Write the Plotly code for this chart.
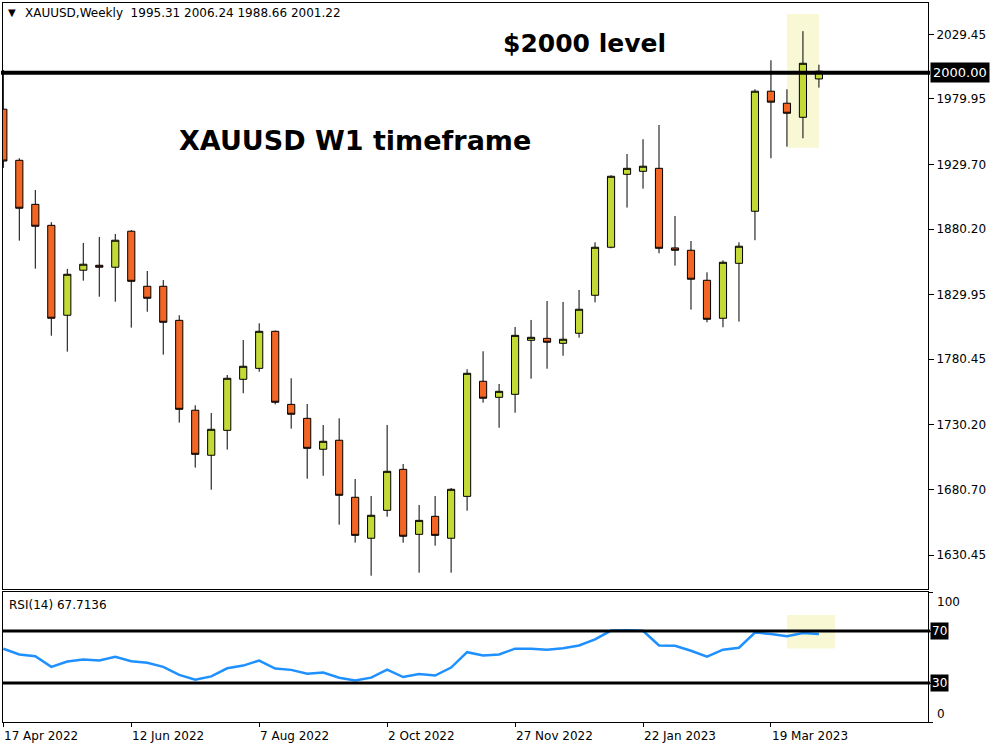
import plotly.graph_objects as go
import pandas as pd

# ---------------- data ----------------
dates = [
    "2022-04-17", "2022-04-24", "2022-05-01", "2022-05-08", "2022-05-15", "2022-05-22",
    "2022-05-29", "2022-06-05", "2022-06-12", "2022-06-19", "2022-06-26", "2022-07-03",
    "2022-07-10", "2022-07-17", "2022-07-24", "2022-07-31", "2022-08-07", "2022-08-14",
    "2022-08-21", "2022-08-28", "2022-09-04", "2022-09-11", "2022-09-18", "2022-09-25",
    "2022-10-02", "2022-10-09", "2022-10-16", "2022-10-23", "2022-10-30", "2022-11-06",
    "2022-11-13", "2022-11-20", "2022-11-27", "2022-12-04", "2022-12-11", "2022-12-18",
    "2022-12-25", "2023-01-01", "2023-01-08", "2023-01-15", "2023-01-22", "2023-01-29",
    "2023-02-05", "2023-02-12", "2023-02-19", "2023-02-26", "2023-03-05", "2023-03-12",
    "2023-03-19", "2023-03-26", "2023-04-02", "2023-04-09",
]
opens = [1972.1, 1932.95, 1899.2, 1883.1, 1814.2, 1848.7, 1852.5, 1851.0, 1878.6, 1836.4,
         1836.4, 1810.3, 1741.4, 1706.9, 1726.0, 1765.1, 1773.5, 1801.9, 1745.9, 1735.2,
         1711.5, 1718.4, 1674.7, 1643.3, 1664.7, 1696.1, 1646.3, 1660.1, 1643.3, 1675.4,
         1763.6, 1751.3, 1753.6, 1795.0, 1796.5, 1792.7, 1800.4, 1829.5, 1866.3, 1922.2,
         1924.5, 1926.8, 1865.8, 1864.0, 1841.0, 1811.9, 1854.0, 1893.9, 1985.9, 1976.7,
         1965.9, 1995.31]
highs = [2002.2, 1934.5, 1910.2, 1885.5, 1849.7, 1869.6, 1874.2, 1876.5, 1879.5, 1848.1,
         1841.2, 1814.2, 1745.2, 1739.3, 1768.4, 1795.2, 1808.0, 1802.5, 1765.9, 1746.2,
         1730.1, 1735.2, 1688.7, 1675.7, 1730.1, 1700.2, 1668.8, 1675.7, 1681.8, 1772.8,
         1786.6, 1761.5, 1805.2, 1810.6, 1825.1, 1824.4, 1833.6, 1870.1, 1921.5, 1937.8,
         1949.1, 1960.0, 1890.3, 1871.1, 1847.1, 1856.3, 1870.1, 1987.4, 2009.6, 1987.4,
         2031.9, 2006.24]
lows = [1927.1, 1871.4, 1849.9, 1798.5, 1786.3, 1840.7, 1828.4, 1824.6, 1804.7, 1816.9,
        1784.0, 1731.9, 1697.4, 1680.5, 1711.2, 1754.4, 1770.9, 1745.9, 1727.3, 1688.9,
        1691.2, 1653.7, 1639.9, 1614.6, 1659.8, 1639.9, 1616.9, 1637.6, 1616.9, 1664.4,
        1747.2, 1728.0, 1739.5, 1765.6, 1773.2, 1783.2, 1797.0, 1824.1, 1865.5, 1896.7,
        1911.2, 1861.7, 1852.2, 1818.5, 1808.8, 1805.0, 1809.3, 1871.7, 1934.5, 1943.4,
        1949.8, 1988.66]
closes = [1932.4, 1896.2, 1882.4, 1811.9, 1845.6, 1853.3, 1851.0, 1871.7, 1840.2, 1827.2,
          1808.8, 1742.1, 1707.6, 1726.8, 1765.9, 1775.1, 1801.9, 1747.5, 1738.3, 1712.2,
          1717.6, 1676.2, 1645.5, 1660.9, 1694.6, 1644.8, 1657.0, 1645.5, 1680.8, 1769.7,
          1750.6, 1755.9, 1798.8, 1797.3, 1793.5, 1795.8, 1818.8, 1866.3, 1920.7, 1926.8,
          1928.4, 1865.5, 1864.0, 1841.8, 1811.1, 1854.8, 1867.1, 1985.9, 1977.5, 1969.0,
          2007.3, 2001.22]
rsi = [56.4, 51.9, 50.6, 42.4, 46.5, 48.1, 47.3, 50.1, 46.8, 45.5, 42.4, 36.2, 32.6, 35.1,
       41.3, 43.4, 47.3, 41.1, 40.1, 37.2, 38.0, 34.1, 32.0, 34.1, 40.3, 34.6, 37.0, 35.7,
       41.9, 53.7, 51.2, 51.9, 56.4, 56.4, 55.6, 56.8, 58.9, 63.6, 70.3, 70.6, 70.2, 58.9,
       58.6, 54.8, 50.2, 55.6, 57.1, 68.8, 67.7, 65.9, 68.5, 67.71]

price_tick_vals = [2029.45, 1979.95, 1929.70, 1880.20, 1829.95, 1780.45, 1730.20, 1680.70, 1630.45]
price_tick_text = ["2029.45", "1979.95", "1929.70", "1880.20", "1829.95", "1780.45",
                   "1730.20", "1680.70", "1630.45"]
date_tick_idx = [0, 8, 16, 24, 32, 40, 48]
date_tick_text = ["17 Apr 2022", "12 Jun 2022", "7 Aug 2022", "2 Oct 2022",
                  "27 Nov 2022", "22 Jan 2023", "19 Mar 2023"]
level_price = 2000.0
rsi_levels = [70, 30]
header_text = "XAUUSD,Weekly  1995.31 2006.24 1988.66 2001.22"
rsi_text = "RSI(14) 67.7136"

# ---------------- styling ----------------
GREEN = "#C3D935"
ORANGE = "#F26522"
BLUE = "#1E90FF"
HILITE = "#F8F8D5"
FONT = "DejaVu Sans"

t0 = pd.Timestamp(dates[0])
week = pd.Timedelta(days=7)
x_range = [t0 - 0.02 * week, t0 + 57.82 * week]

X_DOM = [0.003, 0.928]
Y_MAIN = [1 - 589 / 750, 1 - 3 / 750]
Y_RSI = [1 - 722 / 750, 1 - 592 / 750]


def px_x(p):
    return p / 1000


def px_y(p):
    return 1 - p / 750


fig = go.Figure()

fig.add_trace(go.Candlestick(
    x=dates, open=opens, high=highs, low=lows, close=closes,
    increasing=dict(fillcolor=GREEN, line=dict(color="black", width=1)),
    decreasing=dict(fillcolor=ORANGE, line=dict(color="black", width=1)),
    whiskerwidth=0, xaxis="x", yaxis="y", showlegend=False, hoverinfo="skip",
))

fig.add_trace(go.Scatter(
    x=dates, y=rsi, mode="lines", line=dict(color=BLUE, width=2.5),
    xaxis="x2", yaxis="y2", showlegend=False, hoverinfo="skip",
))

shapes = []
# highlight boxes
shapes.append(dict(type="rect", xref="x", yref="y", x0=dates[49], x1=dates[51],
                   y0=1942.6, y1=2045.1, fillcolor=HILITE, line=dict(width=0), layer="below"))
shapes.append(dict(type="rect", xref="x2", yref="y2", x0=dates[49],
                   x1=pd.Timestamp(dates[51]) + week,
                   y0=56.6, y1=82.4, fillcolor=HILITE, line=dict(width=0), layer="below"))
# $2000 level line
shapes.append(dict(type="line", xref="paper", yref="y", x0=0.001, x1=0.93,
                   y0=level_price, y1=level_price, line=dict(color="black", width=4)))
# RSI levels
for lv in rsi_levels:
    shapes.append(dict(type="line", xref="paper", yref="y2", x0=0.003, x1=0.93,
                       y0=lv, y1=lv, line=dict(color="black", width=3)))

annotations = []
# header
annotations.append(dict(xref="paper", yref="paper", x=px_x(12), y=px_y(13), text="▼",
                        showarrow=False, xanchor="center", yanchor="middle",
                        font=dict(family=FONT, size=10, color="black")))
annotations.append(dict(xref="paper", yref="paper", x=px_x(23), y=px_y(13), text=header_text,
                        showarrow=False, xanchor="left", yanchor="middle",
                        font=dict(family=FONT, size=12, color="black")))
# big texts
annotations.append(dict(xref="paper", yref="paper", x=px_x(355), y=px_y(141),
                        text="XAUUSD W1 timeframe", showarrow=False,
                        xanchor="center", yanchor="middle",
                        font=dict(family=FONT, size=27, color="black", weight="bold")))
annotations.append(dict(xref="paper", yref="paper", x=px_x(584), y=px_y(44),
                        text="$2000 level", showarrow=False,
                        xanchor="center", yanchor="middle",
                        font=dict(family=FONT, size=25, color="black", weight="bold")))
# 2000 label box
annotations.append(dict(xref="paper", yref="y", x=px_x(930), y=level_price,
                        text=f"{level_price:.2f}", showarrow=False,
                        xanchor="left", yanchor="middle", bgcolor="black", borderpad=2,
                        font=dict(family=FONT, size=13, color="white")))
# RSI label
annotations.append(dict(xref="paper", yref="paper", x=px_x(7), y=px_y(605), text=rsi_text,
                        showarrow=False, xanchor="left", yanchor="middle",
                        font=dict(family=FONT, size=12, color="black")))
# RSI axis labels
for lv in rsi_levels:
    annotations.append(dict(xref="paper", yref="y2", x=px_x(930), y=lv, text=str(lv),
                            showarrow=False, xanchor="left", yanchor="middle",
                            bgcolor="black", borderpad=1,
                            font=dict(family=FONT, size=12, color="white")))
annotations.append(dict(xref="paper", yref="paper", x=px_x(935), y=px_y(602), text="100",
                        showarrow=False, xanchor="left", yanchor="middle",
                        font=dict(family=FONT, size=12, color="black")))
annotations.append(dict(xref="paper", yref="paper", x=px_x(935), y=px_y(714), text="0",
                        showarrow=False, xanchor="left", yanchor="middle",
                        font=dict(family=FONT, size=12, color="black")))
# date labels (left-aligned at ticks)
for idx, lab in zip(date_tick_idx, date_tick_text):
    annotations.append(dict(xref="x2", yref="paper", x=dates[idx], y=px_y(736), text=lab,
                            showarrow=False, xanchor="left", yanchor="middle", xshift=-1,
                            font=dict(family=FONT, size=12, color="black")))

axis_common = dict(showline=True, linecolor="black", linewidth=1, mirror=True,
                   showgrid=False, zeroline=False)

fig.update_layout(
    width=1000, height=750,
    margin=dict(l=0, r=0, t=0, b=0, autoexpand=False),
    paper_bgcolor="white", plot_bgcolor="white",
    boxgap=0.36,
    showlegend=False,
    xaxis=dict(domain=X_DOM, anchor="y", range=x_range, matches="x2",
               showticklabels=False, ticks="", rangeslider=dict(visible=False),
               type="date", **axis_common),
    yaxis=dict(domain=Y_MAIN, anchor="x", side="right", range=[1604.4, 2053.5],
               tickvals=price_tick_vals, ticktext=price_tick_text, ticks="outside",
               ticklen=5, tickcolor="black", automargin=False,
               tickfont=dict(family=FONT, size=12, color="black"), **axis_common),
    xaxis2=dict(domain=X_DOM, anchor="y2", range=x_range, type="date",
                tickvals=[dates[i] for i in date_tick_idx], ticks="outside", ticklen=4,
                tickcolor="black", showticklabels=False, automargin=False, **axis_common),
    yaxis2=dict(domain=Y_RSI, anchor="x2", side="right", range=[0, 100],
                tickvals=[0, 30, 70, 100], ticks="outside", ticklen=4, tickcolor="black",
                showticklabels=False, automargin=False, **axis_common),
    shapes=shapes,
    annotations=annotations,
)

fig.write_html(
    "out.html",
    config={"displayModeBar": False},
    post_script="document.body.style.margin='0';document.body.style.padding='0';",
)
